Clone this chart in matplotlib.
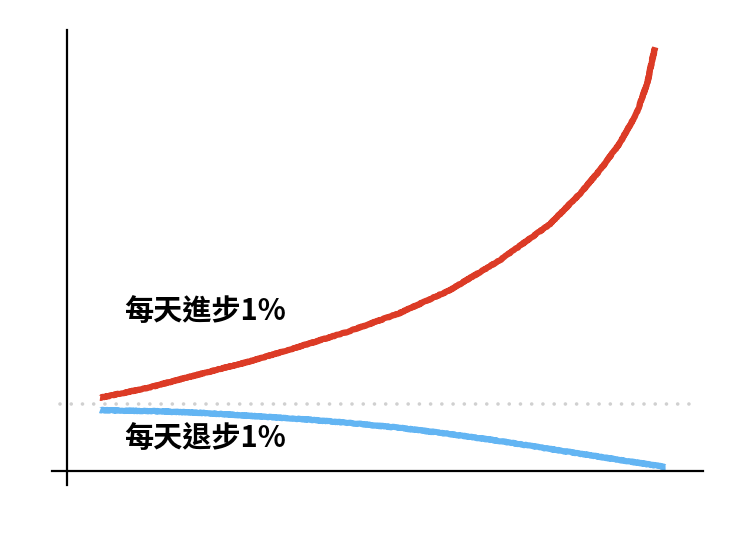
import matplotlib
matplotlib.use("Agg")
import matplotlib.pyplot as plt

# ---- data ----
up_days = [0, 33, 66, 99, 132, 164, 197, 230, 263, 296, 316, 329, 342, 353, 360, 365]
up_level = [16.6, 19.0, 22.0, 24.9, 28.3, 31.7, 35.8, 41.0, 47.8, 56.0, 63.0, 68.3, 74.4, 81.2, 88.0, 96.1]

down_days = [0, 33, 66, 99, 132, 164, 197, 230, 263, 296, 329, 372]
down_level = [13.8, 13.6, 13.2, 12.5, 11.8, 10.9, 9.8, 8.4, 6.8, 5.0, 3.2, 0.9]

baseline = 15.2
up_label = "每天進步1%"
down_label = "每天退步1%"

plt.rcParams['font.family'] = ['Noto Sans CJK TC', 'DejaVu Sans']

fig = plt.figure(figsize=(7.4, 5.44), dpi=100)
ax = fig.add_axes([52 / 740, 1 - 485 / 544, 651 / 740, 455 / 544])
x_min, x_max = -31.6, 396.6
ax.set_xlim(x_min, x_max)
ax.set_ylim(-3.17, 100)

# axis lines
for s in ['top', 'right']:
    ax.spines[s].set_visible(False)
ax.spines['left'].set_position(('data', -21.7))
ax.spines['bottom'].set_position(('data', 0))
for s in ['left', 'bottom']:
    ax.spines[s].set_linewidth(1.6)
    ax.spines[s].set_color('black')
ax.set_xticks([])
ax.set_yticks([])

# dotted baseline
ax.axhline(baseline, xmin=(-26.3 - x_min) / (x_max - x_min),
           xmax=(391.3 - x_min) / (x_max - x_min),
           color='#d0d0d0', lw=2.6, linestyle=(0, (0.01, 3.1)),
           dash_capstyle='round')

l1, = ax.plot(up_days, up_level, color='#dc3b26', lw=4.4,
              solid_capstyle='butt', solid_joinstyle='round')
l2, = ax.plot(down_days, down_level, color='#63b5f3', lw=4.4,
              solid_capstyle='butt', solid_joinstyle='round')
for l in (l1, l2):
    l.set_sketch_params(scale=0.4, length=1.5, randomness=2)

ax.text(16, 36.2, up_label, fontsize=21, fontweight='heavy', va='center', ha='left')
ax.text(16, 7.6, down_label, fontsize=21, fontweight='heavy', va='center', ha='left')

fig.savefig('out.png', dpi=100)
